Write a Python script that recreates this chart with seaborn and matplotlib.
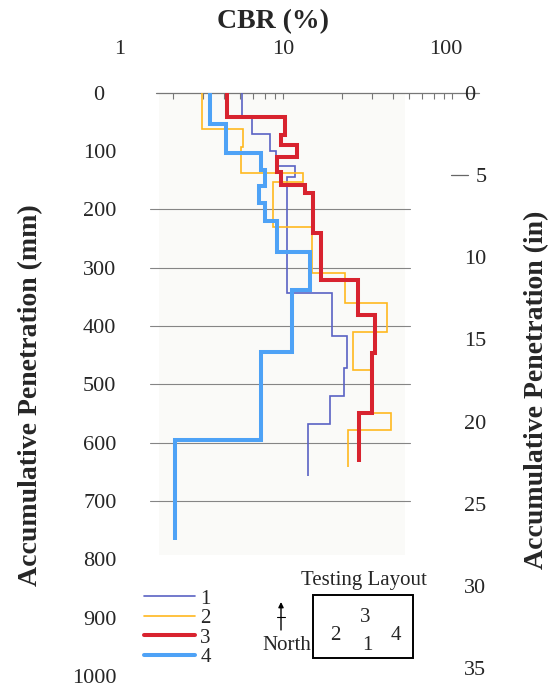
import numpy as np
import pandas as pd
import matplotlib
matplotlib.use("Agg")
import matplotlib.pyplot as plt
from matplotlib.patches import Rectangle, FancyArrowPatch
from matplotlib.lines import Line2D
from matplotlib.transforms import ScaledTranslation
import seaborn as sns

# Layer profiles: depth boundaries (mm) and the CBR (%) of each layer between them
s1_depth = [0, 41, 71, 100, 126, 144, 344, 418, 472, 520, 568, 657]
s1_cbr = [5.1, 5.85, 7.5, 8.2, 10.6, 9.5, 17.4, 21.4, 20.6, 17.0, 12.6]

s2_depth = [0, 62, 93, 138, 153, 230, 310, 361, 410, 475, 549, 578, 641]
s2_cbr = [2.97, 5.2, 5.05, 11.8, 7.85, 13.3, 20.9, 37.1, 23.2, 30.0, 39.1, 21.8]

s3_depth = [0, 42, 73, 90, 110, 136, 158, 172, 241, 321, 381, 446, 549, 633]
s3_cbr = [4.2, 9.2, 8.7, 10.9, 8.3, 8.7, 12.1, 13.5, 15.0, 24.9, 31.4, 30.0, 25.3]

s4_depth = [0, 54, 103, 132, 161, 190, 221, 273, 338, 444, 595, 767]
s4_cbr = [3.32, 4.13, 6.62, 6.99, 6.49, 6.99, 8.23, 12.95, 10.1, 6.62, 2.06]

series_names = ["1", "2", "3", "4"]
series_colors = ["#5a62c4", "#ffb81f", "#d8232f", "#4ea2f6"]
series_widths = [1.2, 1.2, 2.9, 2.9]

depth_ticks = list(range(0, 1001, 100))
inch_ticks = list(range(0, 36, 5))
cbr_ticks = [1, 10, 100]
grid_depths = [200, 300, 400, 500, 600, 700]
MM_PER_IN = 28.2


def profile(depths, values, name):
    xs, ys = [], []
    for i, v in enumerate(values):
        xs += [v, v]
        ys += [depths[i], depths[i + 1]]
    return pd.DataFrame({"CBR": xs, "Depth": ys, "Test": name})


frames = [profile(d, c, n) for d, c, n in zip(
    [s1_depth, s2_depth, s3_depth, s4_depth],
    [s1_cbr, s2_cbr, s3_cbr, s4_cbr], series_names)]

sns.set_theme(style="white")
plt.rcParams["font.family"] = ["Liberation Serif", "DejaVu Serif"]

TICK_FS = 16
LABEL_FS = 20
SMALL_FS = 15

fig = plt.figure(figsize=(5.48, 6.92), dpi=100)
ax = fig.add_axes([0.2226, 0.0230, 0.6168, 0.8433])
ax.set_facecolor("none")

ax.set_xscale("log")
ax.set_xlim(1, 100)
ax.set_ylim(1000, 0)


def shift(label, dx_px):
    label.set_transform(label.get_transform()
                        + ScaledTranslation(dx_px / 100, 0, fig.dpi_scale_trans))


# faint plotting panel and horizontal guides
ax.add_patch(Rectangle((1.65, 0), 47.5 - 1.65, 793, facecolor="#fafaf8",
                       edgecolor="none", zorder=0))
for g in grid_depths:
    ax.plot([1.46, 50.6], [g, g], color="#858585", lw=0.8, zorder=1)
ax.plot([1.6, 130], [0, 0], color="#777777", lw=0.9, zorder=1, clip_on=False)
# short tick beside the 5 in mark
ax.plot([89, 112], [5 * MM_PER_IN, 5 * MM_PER_IN], color="#666666", lw=0.9,
        zorder=1, clip_on=False)

for df, col, lw in zip(frames, series_colors, series_widths):
    sns.lineplot(data=df, x="CBR", y="Depth", sort=False, estimator=None,
                 color=col, lw=lw, ax=ax, zorder=3,
                 solid_joinstyle="miter", solid_capstyle="butt")

# top CBR axis
ax.xaxis.tick_top()
ax.set_xticks(cbr_ticks)
ax.set_xticklabels(["1", "10", "100"], fontsize=TICK_FS)
ax.xaxis.set_minor_locator(matplotlib.ticker.LogLocator(base=10, subs=np.arange(2, 10)))
ax.xaxis.set_minor_formatter(matplotlib.ticker.NullFormatter())
ax.tick_params(axis="x", which="major", length=0, pad=24, top=True, bottom=False)
ax.tick_params(axis="x", which="minor", length=4, width=0.8, direction="in",
               color="#777777", top=True, bottom=False)
for lab, dx in zip(ax.get_xticklabels(), [-2, -8, -14]):
    shift(lab, dx)
ax.set_xlabel("")
fig.text(273 / 548, 1 - 22 / 692, "CBR (%)", fontsize=LABEL_FS, fontweight="bold",
         ha="center", va="center")

# left depth axis (mm)
ax.set_yticks(depth_ticks)
ax.set_yticklabels([str(t) for t in depth_ticks], fontsize=TICK_FS)
ax.tick_params(axis="y", length=0, pad=4, left=True)
shift(ax.get_yticklabels()[0], -12)
ax.set_ylabel("")
fig.text(31 / 548, 1 - 395 / 692, "Accumulative Penetration (mm)", fontsize=LABEL_FS,
         fontweight="bold", rotation=90, ha="center", va="center")
for s in ax.spines.values():
    s.set_visible(False)

# right depth axis (in)
ax2 = ax.twinx()
ax2.set_ylim(1000 / MM_PER_IN, 0)
ax2.set_yticks(inch_ticks)
ax2.set_yticklabels([str(t) for t in inch_ticks], fontsize=TICK_FS)
ax2.tick_params(axis="y", length=0, pad=3)
shift(ax2.get_yticklabels()[1], 12)
ax2.set_ylabel("")
fig.text(537 / 548, 1 - 390 / 692, "Accumulative Penetration (in)", fontsize=LABEL_FS,
         fontweight="bold", rotation=90, ha="center", va="center")
ax2.grid(False)
for s in ax2.spines.values():
    s.set_visible(False)

# legend
handles = [Line2D([], [], color=c, lw=w) for c, w in zip(series_colors, series_widths)]
fig.legend(handles, series_names, loc="upper left",
           bbox_to_anchor=(144 / 548, 1 - 589 / 692), frameon=False, fontsize=SMALL_FS,
           handlelength=2.45, handletextpad=0.25, labelspacing=0.0,
           borderpad=0.0, borderaxespad=0.0)

# testing layout sketch
W, H = 548.0, 692.0


def fx(px):
    return px / W


def fy(py):
    return 1 - py / H


fig.text(fx(364), fy(580), "Testing Layout", fontsize=SMALL_FS, ha="center", va="center")
fig.add_artist(Rectangle((fx(313), fy(658)), fx(413) - fx(313), fy(595) - fy(658),
                         transform=fig.transFigure, fill=False, edgecolor="black",
                         lw=1.4))
fig.text(fx(365), fy(618), "3", fontsize=SMALL_FS, ha="center", va="center")
fig.text(fx(335), fy(636), "2", fontsize=SMALL_FS, ha="center", va="center")
fig.text(fx(367), fy(646), "1", fontsize=SMALL_FS, ha="center", va="center")
fig.text(fx(396), fy(635), "4", fontsize=SMALL_FS, ha="center", va="center")
fig.text(fx(311), fy(645), "North", fontsize=SMALL_FS, ha="right", va="center")
fig.add_artist(FancyArrowPatch(
    (fx(281), fy(630)), (fx(281), fy(602)), transform=fig.transFigure,
    arrowstyle="-|>,head_length=3,head_width=1.5", lw=1.0, color="black",
    shrinkA=0, shrinkB=0))
fig.add_artist(Line2D([fx(277), fx(285)], [fy(617), fy(617)],
                      transform=fig.transFigure, color="black", lw=0.8))

fig.savefig("out.png", dpi=100, facecolor="white")
